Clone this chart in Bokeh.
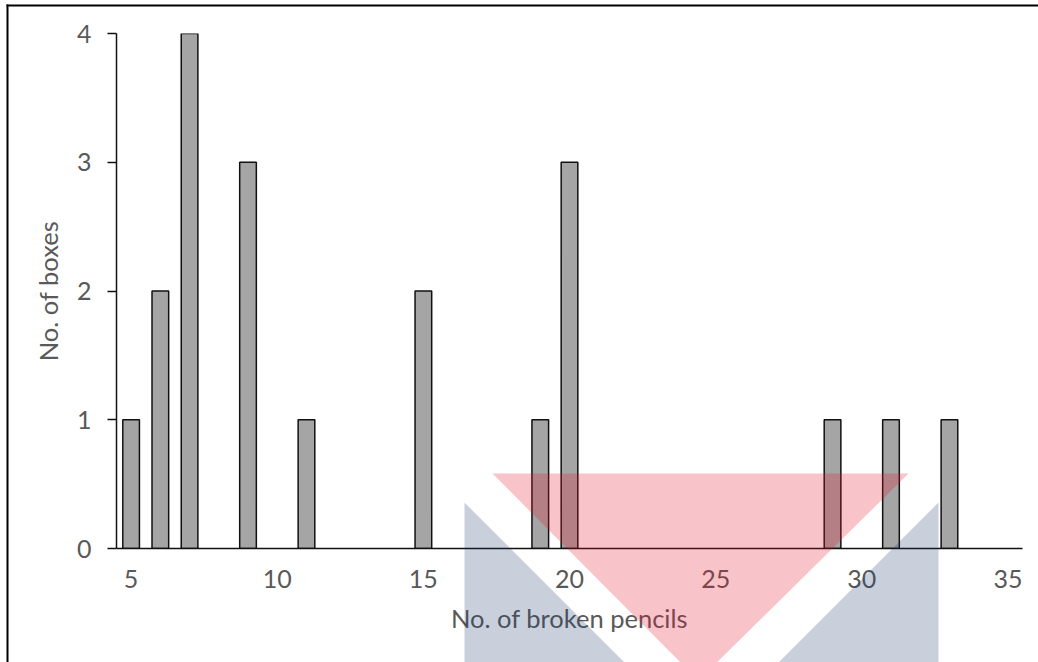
from bokeh.plotting import figure
from bokeh.layouts import column
from bokeh.models import Range1d, FixedTicker
from bokeh.embed import file_html
from bokeh.resources import INLINE

# ---- data ----
pencils = [5, 6, 7, 9, 11, 15, 19, 20, 29, 31, 33]
boxes = [1, 2, 4, 3, 1, 2, 1, 3, 1, 1, 1]
x_ticks = [5, 10, 15, 20, 25, 30, 35]
y_ticks = [0, 1, 2, 3, 4]
x_title = "No. of broken pencils"
y_title = "No. of boxes"

FONT = "Lato"
TXT = "#595959"
W, H = 1038, 662

p = figure(width=W, height=H,
           x_range=Range1d(4.5, 35.5), y_range=Range1d(0, 4),
           output_backend="svg", toolbar_location=None,
           min_border_left=116, min_border_right=16,
           min_border_top=33, min_border_bottom=114)
p.outline_line_color = None
p.grid.visible = False
p.background_fill_color = "white"
p.border_fill_color = "white"

p.vbar(x=pencils, top=boxes, bottom=0, width=0.57,
       fill_color="#A5A5A5", line_color="#111111", line_width=1.5)

# x axis
xa = p.xaxis[0]
xa.ticker = FixedTicker(ticks=x_ticks)
xa.axis_label = x_title
xa.major_tick_out = 0
xa.major_tick_in = 0
xa.minor_tick_out = 0
xa.minor_tick_in = 0
xa.axis_line_color = "#111111"
xa.axis_line_width = 1.5
xa.major_label_text_font = FONT
xa.major_label_text_font_size = "25px"
xa.major_label_text_color = TXT
xa.major_label_standoff = 21
xa.axis_label_text_font = FONT
xa.axis_label_text_font_size = "25.5px"
xa.axis_label_text_color = TXT
xa.axis_label_text_font_style = "normal"
xa.axis_label_standoff = 12

# y axis
ya = p.yaxis[0]
ya.ticker = FixedTicker(ticks=y_ticks)
ya.axis_label = y_title
ya.major_tick_out = 9
ya.major_tick_in = 0
ya.minor_tick_out = 0
ya.minor_tick_in = 0
ya.major_tick_line_color = "#111111"
ya.major_tick_line_width = 1.5
ya.axis_line_color = "#111111"
ya.axis_line_width = 1.5
ya.major_label_text_font = FONT
ya.major_label_text_font_size = "25px"
ya.major_label_text_color = TXT
ya.major_label_standoff = 16
ya.axis_label_text_font = FONT
ya.axis_label_text_font_size = "25.5px"
ya.axis_label_text_color = TXT
ya.axis_label_text_font_style = "normal"
ya.axis_label_standoff = 11

# ---- overlay: page frame and faint watermark (decoration in pixel space) ----
wm = figure(width=W, height=H, x_range=Range1d(0, W), y_range=Range1d(H, 0),
            output_backend="svg", toolbar_location=None,
            x_axis_type=None, y_axis_type=None,
            min_border=0, min_border_left=0, min_border_right=0,
            min_border_top=0, min_border_bottom=0)
wm.outline_line_color = None
wm.grid.visible = False
wm.background_fill_alpha = 0
wm.border_fill_alpha = 0
wm.styles = {"margin-top": f"-{H}px"}
for fig in (p, wm):
    if hasattr(fig, "frame_align"):
        fig.frame_align = False

wm.quad(left=[6, 6], right=[W, 8], top=[4, H], bottom=[6, 4],
        fill_color="#000000", line_alpha=0)
wm.patch([492, 908, 698], [473, 473, 680],
         fill_color="#E8112D", fill_alpha=0.25, line_alpha=0)
wm.patch([464, 464, 702], [502, 740, 740],
         fill_color="#1E3C6E", fill_alpha=0.24, line_alpha=0)
wm.patch([938, 938, 700], [502, 740, 740],
         fill_color="#1E3C6E", fill_alpha=0.24, line_alpha=0)

layout = column(p, wm)
open("out.html", "w").write(file_html(layout, INLINE))
